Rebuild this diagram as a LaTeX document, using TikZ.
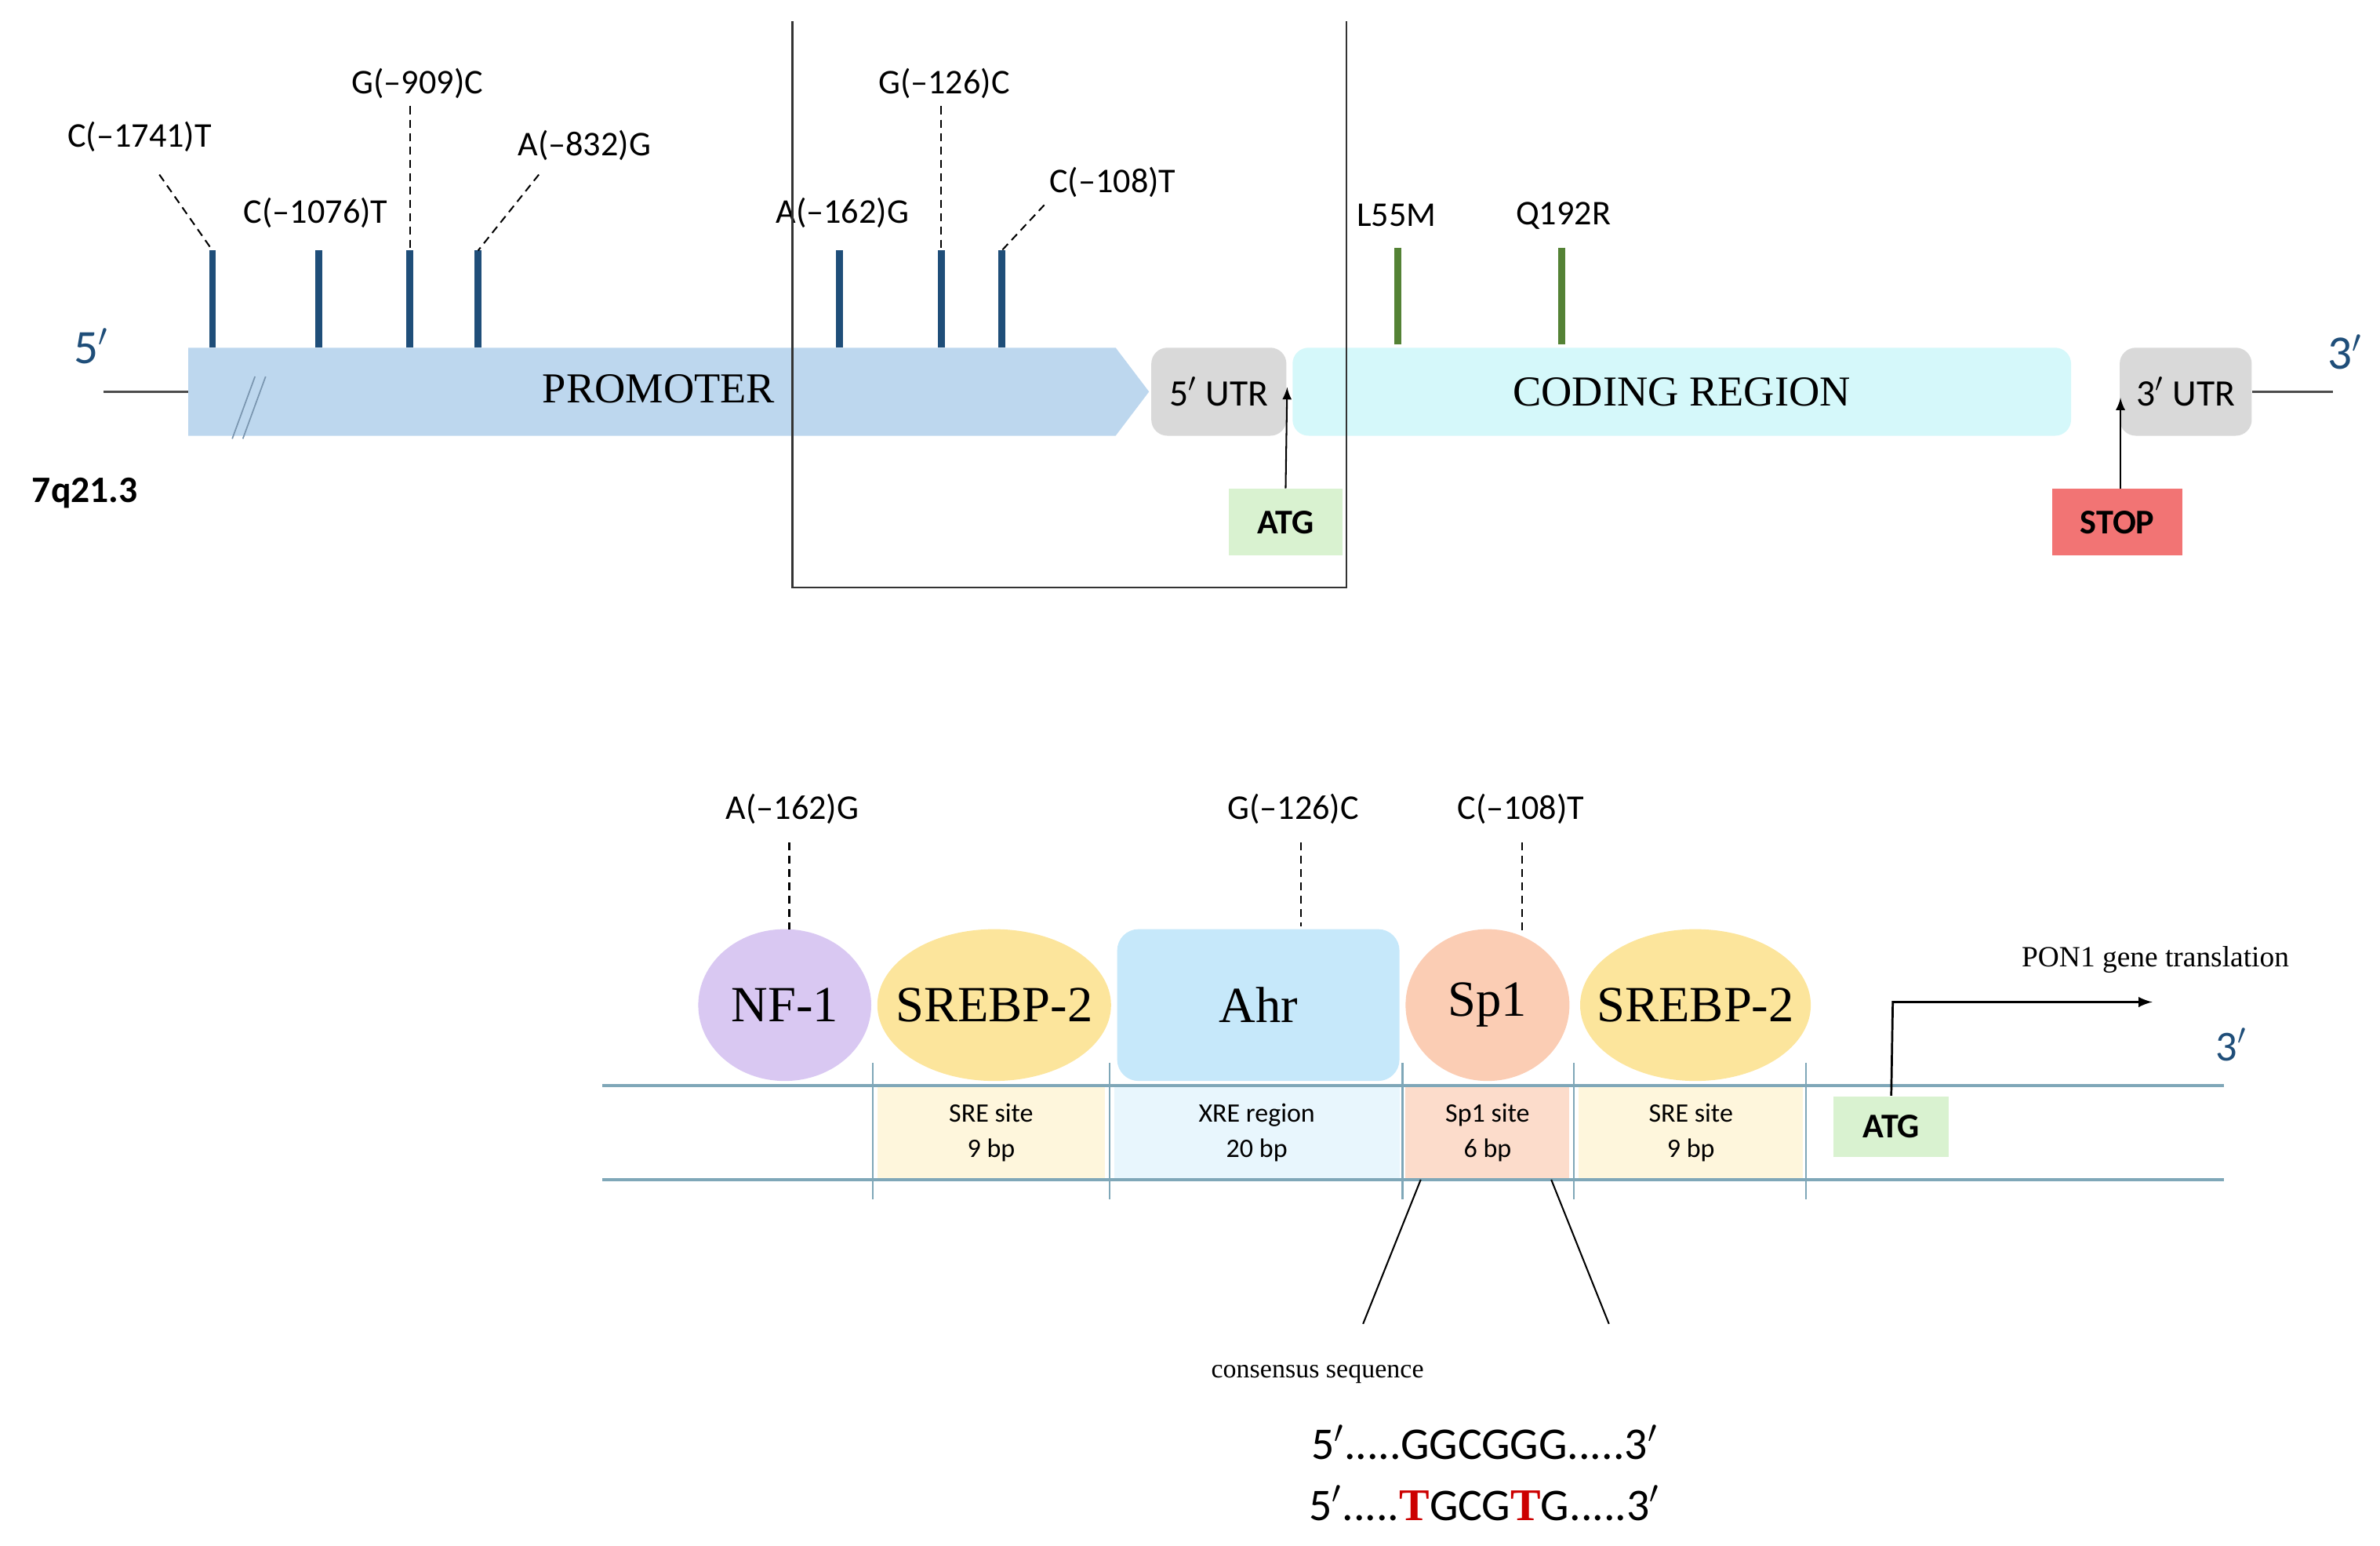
\documentclass[tikz,border=0pt]{standalone}
\usepackage{fontspec}
\setmainfont{Carlito}
\newfontfamily\serifed{Liberation Serif}
\usetikzlibrary{arrows,shapes,calc,positioning}
\definecolor{snpBlue}{HTML}{1F4E79}
\definecolor{snpGreen}{HTML}{548235}
\definecolor{promBlue}{HTML}{BDD7EE}
\definecolor{codeCyan}{HTML}{D5F8FA}
\definecolor{utrGrey}{HTML}{D9D9D9}
\definecolor{atgGreen}{HTML}{D9F2D0}
\definecolor{stopRed}{HTML}{F27474}
\definecolor{dnaLine}{HTML}{7FA7B8}
\definecolor{nfViolet}{HTML}{D9C8F2}
\definecolor{srebpYellow}{HTML}{FCE59C}
\definecolor{spPeach}{HTML}{FBCDB4}
\definecolor{ahrBlue}{HTML}{C6E8FA}
\tikzstyle{snp}=[line width=2.6pt, snpBlue]
\tikzstyle{cds}=[line width=2.6pt, snpGreen]
\tikzstyle{pin}=[densely dashed, line width=0.6pt]
\tikzstyle{lab}=[font=\fontsize{13}{15}\selectfont, inner sep=1pt]
\tikzstyle{utr}=[rounded corners=6pt, fill=utrGrey, draw=none, minimum height=1.16cm, font=\fontsize{14}{16}\selectfont]
\tikzstyle{tag}=[draw=none, minimum height=0.88cm, font=\bfseries\fontsize{13}{15}\selectfont]
\tikzstyle{blob}=[ellipse, draw=none, inner xsep=-0.45cm, inner ysep=0pt, minimum height=2cm, font=\serifed\fontsize{19}{21}\selectfont]
\tikzstyle{site}=[draw=none, minimum height=1.2cm, align=center, font=\fontsize{10}{13}\selectfont]
\begin{document}
\begin{tikzpicture}[x=0.02cm, y=-0.02cm]
\useasboundingbox (0,0) rectangle (1568,1018);
% top: gene map
\draw[line width=0.8pt, black!70] (68,258) -- (124,258);
\draw[line width=0.8pt, black!70] (1484,258) -- (1537,258);
\node (five) [font=\fontsize{18}{20}\selectfont, snpBlue] at (60,228) {5$'$};
\node (three) [font=\fontsize{18}{20}\selectfont, snpBlue] at (1545,232) {3$'$};
\fill[promBlue] (124,229) -- (735,229) -- (757,258) -- (735,287) -- (124,287) -- cycle;
\draw[snpBlue!60, line width=0.5pt] (153,289) -- (168,248) (160,289) -- (175,248);
\node (prom) [font=\serifed\fontsize{16}{18}\selectfont] at (434,256) {PROMOTER};
\node (utr5) [utr, minimum width=1.78cm] at (803,258) {5$'$ UTR};
\node (coding) [utr, fill=codeCyan, minimum width=10.26cm, font=\serifed\fontsize{16}{18}\selectfont] at (1108,258) {CODING REGION};
\node (utr3) [utr, minimum width=1.74cm] at (1440,258) {3$'$ UTR};
\node (q) [font=\bfseries\fontsize{14}{16}\selectfont] at (56,325) {7q21.3};
% promoter SNPs
\foreach \x in {140,210,270,315,553,620,660}
  \draw[snp] (\x,165) -- (\x,229);
\node (s1) [lab] at (92,90) {C(--1741)T};
\node (s2) [lab] at (208,140) {C(--1076)T};
\node (s3) [lab] at (275,55) {G(--909)C};
\node (s4) [lab] at (385,96) {A(--832)G};
\node (s5) [lab] at (555,140) {A(--162)G};
\node (s6) [lab] at (622,55) {G(--126)C};
\node (s7) [lab] at (733,120) {C(--108)T};
\draw[pin] (105,115) -- (140,165);
\draw[pin] (270,70) -- (270,165);
\draw[pin] (355,115) -- (315,165);
\draw[pin] (620,70) -- (620,165);
\draw[pin] (688,135) -- (660,165);
% coding SNPs
\draw[cds] (921,163) -- (921,227);
\draw[cds] (1029,163) -- (1029,227);
\node (l55) [lab] at (920,142) {L55M};
\node (q192) [lab] at (1030,142) {Q192R};
% start and stop
\node (atg) [tag, fill=atgGreen, minimum width=1.5cm] at (847,344) {ATG};
\node (stop) [tag, fill=stopRed, minimum width=1.72cm] at (1395,344) {STOP};
\draw[-latex, line width=0.6pt] (atg.north) -- (848,255);
\draw[-latex, line width=0.6pt] (1397,322) -- (1397,262);
% zoom frame
\draw[line width=0.8pt, black!80] (522,14) -- (522,387) -- (887,387) -- (887,14);
% bottom: promoter detail
\node (sre1) [site, fill=srebpYellow!35, minimum width=3cm] at (653,746) {SRE site\\9 bp};
\node (xre) [site, fill=ahrBlue!40, minimum width=3.76cm] at (828,746) {XRE region\\20 bp};
\node (sp1s) [site, fill=spPeach!70, minimum width=2.16cm] at (980,746) {Sp1 site\\6 bp};
\node (sre2) [site, fill=srebpYellow!35, minimum width=2.96cm] at (1114,746) {SRE site\\9 bp};
\node (atg2) [tag, fill=atgGreen, minimum width=1.52cm, minimum height=0.8cm] at (1246,742) {ATG};
\draw[dnaLine, line width=1pt] (397,715) -- (1465,715);
\draw[dnaLine, line width=1pt] (397,777) -- (1465,777);
\foreach \x in {575,731,924,1037,1190}
  \draw[dnaLine, line width=0.6pt] (\x,700) -- (\x,790);
\node (nf) [blob, fill=nfViolet, minimum width=2.28cm] at (517,662) {NF-1};
\node (srebp1) [blob, fill=srebpYellow, minimum width=3.08cm] at (655,662) {SREBP-2};
\node (ahr) [rounded corners=8pt, fill=ahrBlue, minimum width=3.72cm, minimum height=2cm, font=\serifed\fontsize{19}{21}\selectfont] at (829,662) {Ahr};
\node (sp1) [blob, fill=spPeach, minimum width=2.16cm] at (980,662) {Sp1};
\node (srebp2) [blob, fill=srebpYellow, minimum width=3.04cm] at (1117,662) {SREBP-2};
\node (b1) [lab] at (522,533) {A(--162)G};
\node (b2) [lab] at (852,533) {G(--126)C};
\node (b3) [lab] at (1002,533) {C(--108)T};
\draw[pin] (520,555) -- (520,612);
\draw[pin] (857,555) -- (857,610);
\draw[pin] (1003,555) -- (1003,615);
\coordinate (turn) at (1247,660);
\draw[-latex, line width=0.8pt] (atg2.north) -- (turn) -- (1418,660);
\node (pon) [font=\serifed\fontsize{11}{13}\selectfont] at (1420,632) {PON1 gene translation};
\node (three2) [font=\fontsize{16}{18}\selectfont, snpBlue] at (1470,688) {3$'$};
% consensus
\draw[line width=0.6pt] (936,777) -- (898,872);
\draw[line width=0.6pt] (1022,777) -- (1060,872);
\node (cons) [font=\serifed\fontsize{10}{12}\selectfont] at (868,905) {consensus sequence};
\node (seq1) [font=\fontsize{17}{19}\selectfont] at (978,950) {5$'$.....GGCGGG.....3$'$};
\node (seq2) [font=\fontsize{17}{19}\selectfont] at (978,990) {5$'$.....{\serifed\bfseries\color{red!80!black}T}GCG{\serifed\bfseries\color{red!80!black}T}G.....3$'$};
\end{tikzpicture}
\end{document}
